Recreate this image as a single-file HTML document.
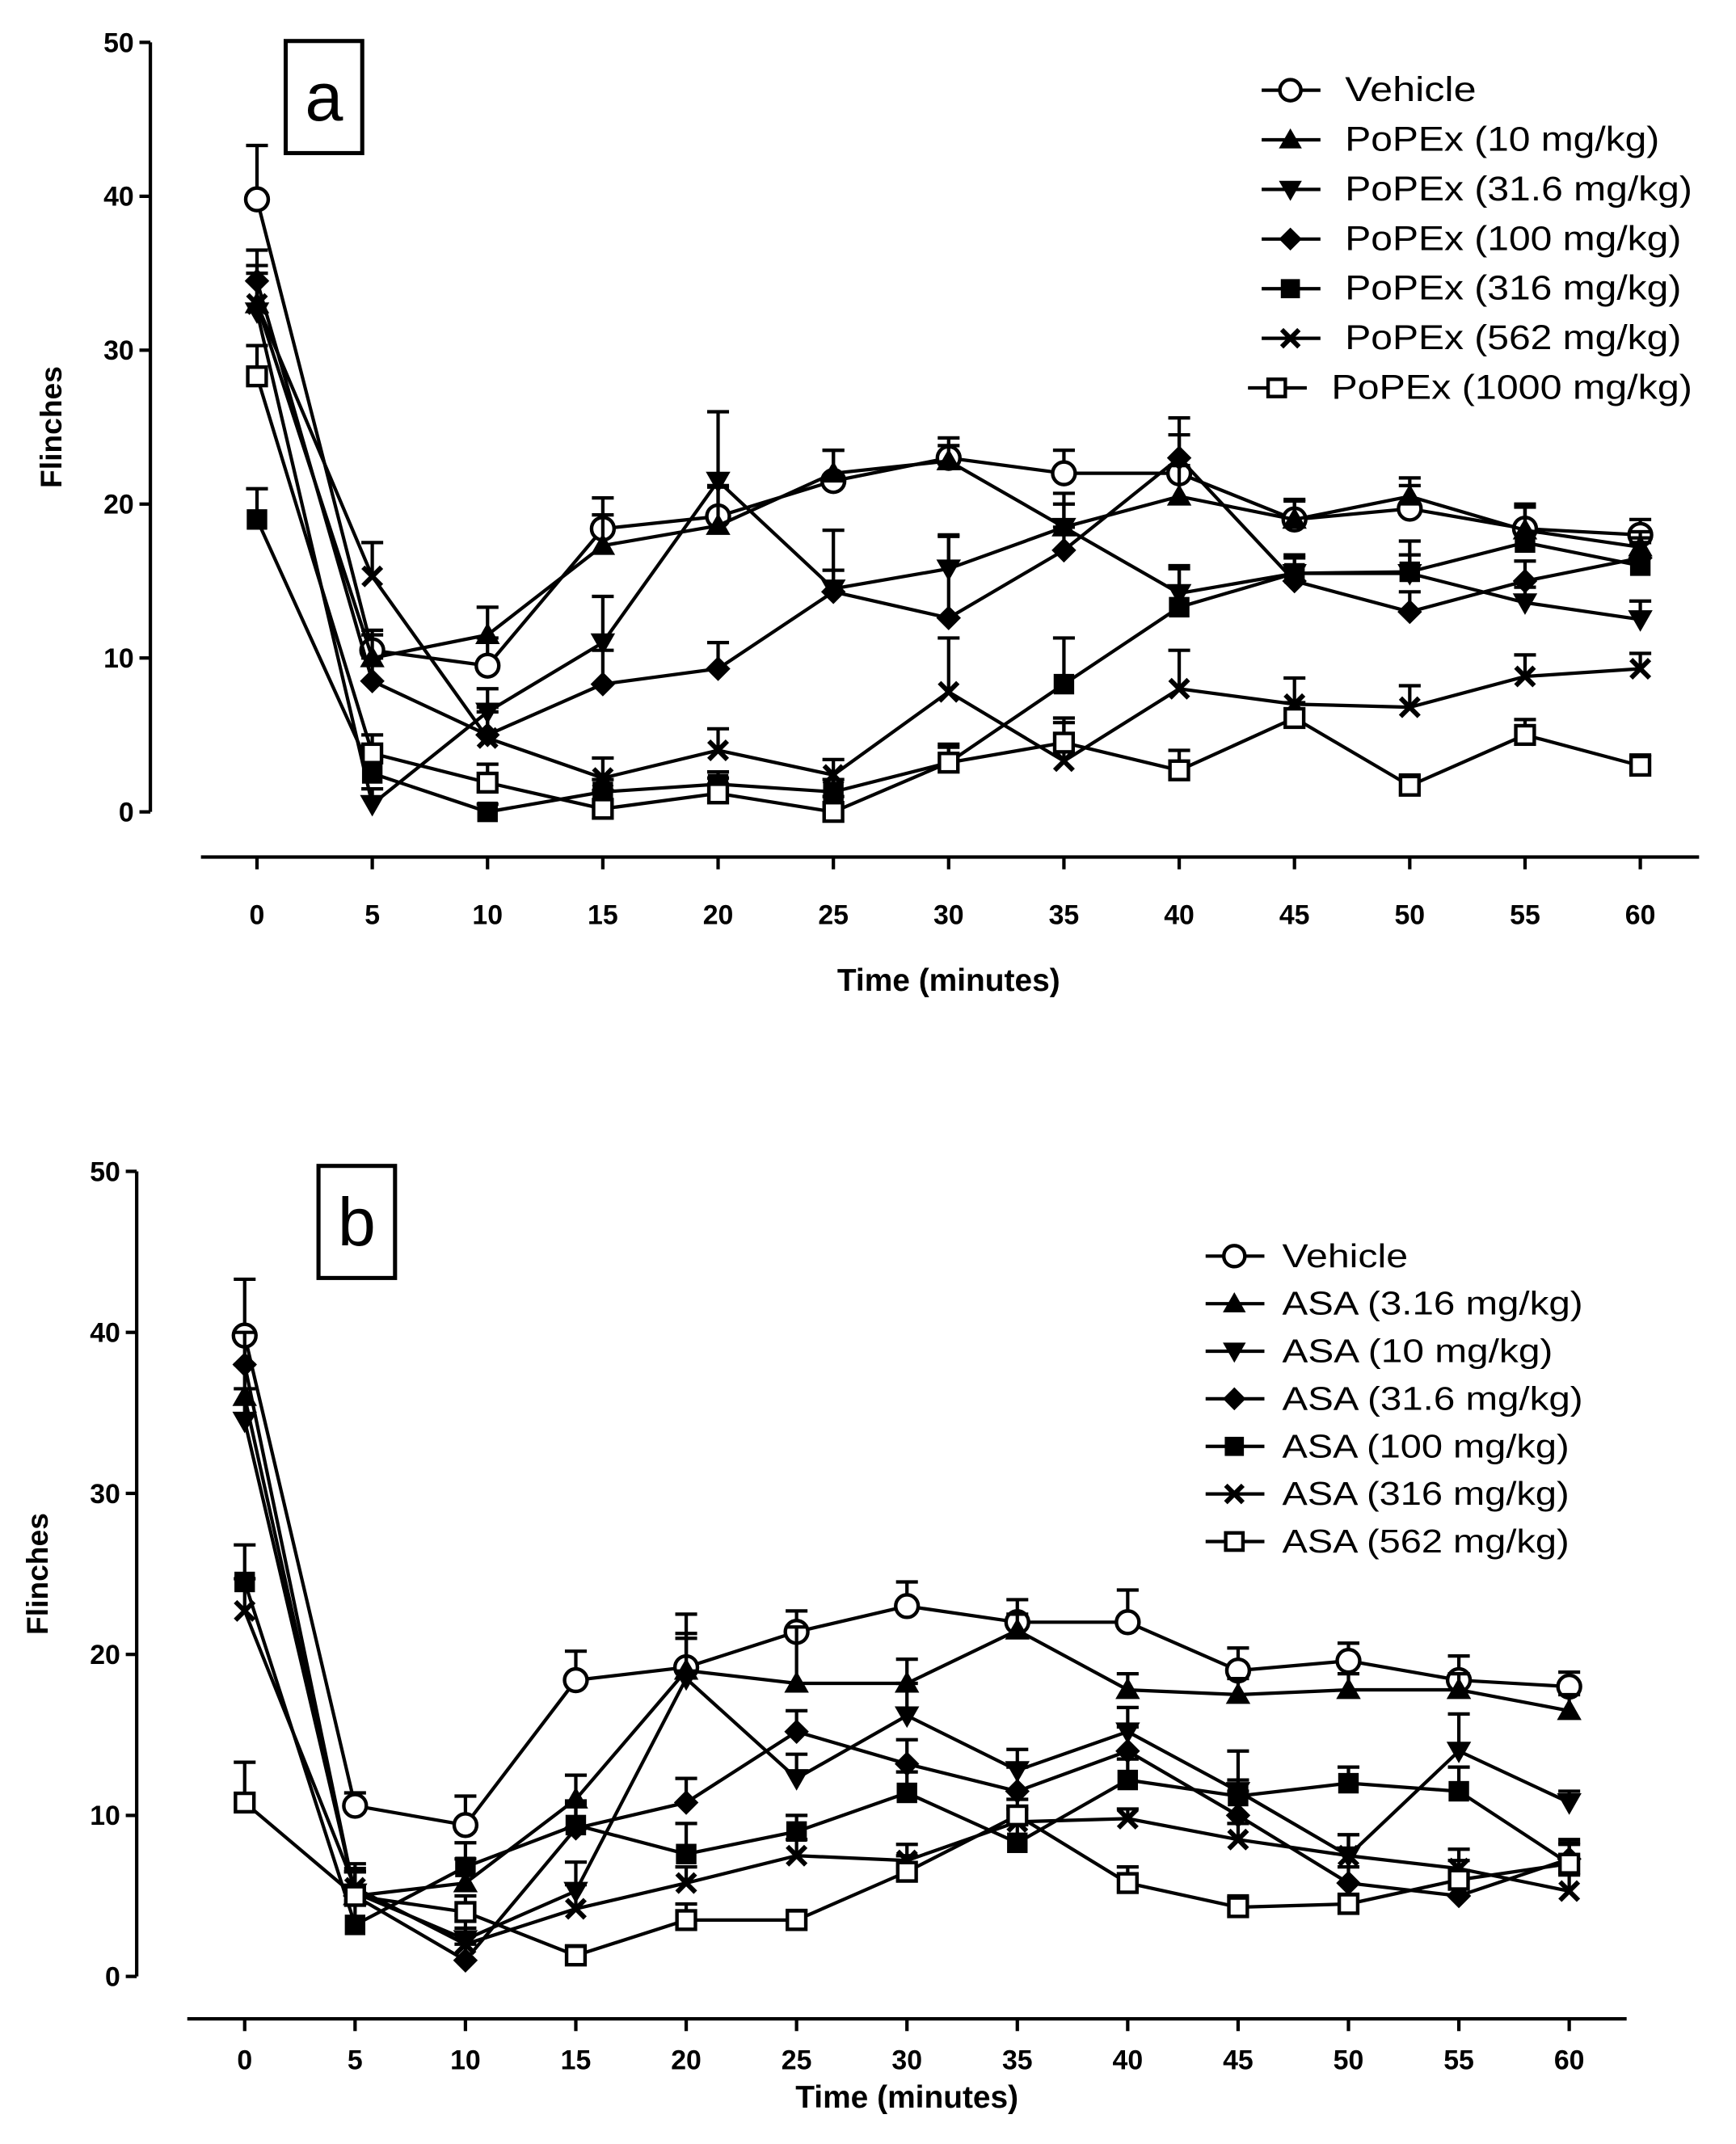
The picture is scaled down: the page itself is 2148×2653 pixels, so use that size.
<!DOCTYPE html>
<html><head><meta charset="utf-8"><style>
html,body{margin:0;padding:0;background:#fff}
svg{display:block}
text{font-family:"Liberation Sans",Arial,sans-serif;fill:#000}
</style></head><body>
<svg id="chart" width="2148" height="2653" viewBox="0 0 1270 1568.6" xmlns="http://www.w3.org/2000/svg"></svg>
<script>
const xCategories=[0,5,10,15,20,25,30,35,40,45,50,55,60];
const yTicks=[0,10,20,30,40,50];
const seriesNamesA=["Vehicle","PoPEx (10 mg/kg)","PoPEx (31.6 mg/kg)","PoPEx (100 mg/kg)","PoPEx (316 mg/kg)","PoPEx (562 mg/kg)","PoPEx (1000 mg/kg)"];
const seriesNamesB=["Vehicle","ASA (3.16 mg/kg)","ASA (10 mg/kg)","ASA (31.6 mg/kg)","ASA (100 mg/kg)","ASA (316 mg/kg)","ASA (562 mg/kg)"];
const markers=["circle","triUp","triDown","diamond","square","cross","openSquare"];
const aVehicle=[39.8,10.5,9.5,18.4,19.2,21.5,23,22,22,19,19.7,18.4,18];
const aP10=[33,10,11.5,17.3,18.6,22,22.8,18.5,20.5,19,20.5,18.3,17.2];
const aP31=[32.5,0.5,6.5,11,21.5,14.5,15.8,18.5,14.2,15.5,15.5,13.6,12.5];
const aP100=[34.5,8.5,5,8.3,9.3,14.3,12.6,17,23,15,13,15,16.5];
const aP316=[19,2.5,0,1.3,1.8,1.3,3.2,8.3,13.3,15.5,15.6,17.5,16];
const aP562=[33,15.3,4.8,2.2,4,2.4,7.8,3.3,8,7,6.8,8.8,9.3];
const aP1000=[28.3,3.8,1.9,0.2,1.2,0,3.2,4.5,2.7,6.1,1.7,5,3];
const aErr=[[3.5,1.3,1.8,2,2,2,1.3,1.5,2.5,1.3,1.5,1.5,1],[2.5,1.5,1.8,2,2.5,1.5,1,1.5,2,1.2,1.2,1.5,1],[2,1,1.5,3,4.5,1.2,2.2,2.2,1.8,1,1.2,1,1.2],[2,1.5,1.5,2.2,1.7,4,5.3,1.5,2.6,1,1.3,1.3,1.3],[2,1,0.5,0.8,0.8,0.8,1.2,3,2.5,1.2,2,2.5,1.5],[2,2.2,2,1.3,1.4,1,3.5,2.8,2.5,1.7,1.4,1.4,1],[2,1.2,1.2,1.2,1,1,1,1.3,1.3,1,0.7,1,0.7]];
const bVehicle=[39.8,10.6,9.4,18.4,19.2,21.4,23,22,22,19,19.6,18.4,18];
const bA3=[36,5,5.8,11,19,18.2,18.2,21.5,17.8,17.5,17.8,17.8,16.5];
const bA10=[34.5,5.2,2.3,5.3,18.5,12.3,16.2,12.8,15.2,11.5,7.5,14,10.8];
const bA31=[38,5,1,9.2,10.8,15.2,13.2,11.5,14,10,5.8,5,7.3];
const bA100=[24.5,3.2,6.8,9.4,7.6,9,11.4,8.3,12.2,11.2,12,11.5,7];
const bA316=[22.7,5.5,2,4.2,5.8,7.5,7.2,9.6,9.8,8.5,7.5,6.7,5.3];
const bA562=[10.8,5,4,1.3,3.5,3.5,6.5,10,5.8,4.3,4.5,6,7];
const bErr=[[3.5,0.8,1.8,1.8,3.3,1.3,1.5,1.4,2,1.4,1.1,1.5,0.9],[2,1.5,1.5,1.5,2.3,3.5,1.5,1,1,1,1,1,1],[2,1.5,1.5,1.8,2.5,1.5,2,1.3,1.5,2.5,1.3,2.3,0.7],[2,1.5,1,1.5,1.5,1.3,1.5,1.5,1.5,1.5,1,1,1],[2.3,1.5,1.5,1.5,1.9,1,1.3,1.2,1.3,1,1,1.5,1.5],[2,1.5,1,1.5,1,1,1,0.8,0.6,1,1.3,1.2,1],[2.5,1.5,1,0.6,1,0.6,1,1,1,0.7,0.6,1.2,1.2]];
const seriesA=[aVehicle,aP10,aP31,aP100,aP316,aP562,aP1000];
const seriesB=[bVehicle,bA3,bA10,bA31,bA100,bA316,bA562];

const svg=document.getElementById('chart');
const NS='http://www.w3.org/2000/svg';
function mk(tag,attrs,parent){const e=document.createElementNS(NS,tag);for(const k in attrs)e.setAttribute(k,attrs[k]);(parent||svg).appendChild(e);return e;}

function marker(g,type,x,y,s){
  const sw=2.6;let e;
  if(type==="circle")e=mk('circle',{cx:x,cy:y,r:s*0.55,fill:'#fff',stroke:'#000','stroke-width':sw},g);
  else if(type==="triUp")e=mk('polygon',{points:`${x},${y-s*0.6} ${x-s*0.6},${y+s*0.45} ${x+s*0.6},${y+s*0.45}`,fill:'#000'},g);
  else if(type==="triDown")e=mk('polygon',{points:`${x},${y+s*0.6} ${x-s*0.6},${y-s*0.45} ${x+s*0.6},${y-s*0.45}`,fill:'#000'},g);
  else if(type==="diamond")e=mk('polygon',{points:`${x},${y-s*0.6} ${x+s*0.6},${y} ${x},${y+s*0.6} ${x-s*0.6},${y}`,fill:'#000'},g);
  else if(type==="square")e=mk('rect',{x:x-s*0.5,y:y-s*0.5,width:s,height:s,fill:'#000'},g);
  else if(type==="cross")e=mk('path',{d:`M${x-s*0.45},${y-s*0.45}L${x+s*0.45},${y+s*0.45}M${x+s*0.45},${y-s*0.45}L${x-s*0.45},${y+s*0.45}`,stroke:'#000','stroke-width':3.5},g);
  else e=mk('rect',{x:x-s*0.45,y:y-s*0.45,width:s*0.9,height:s*0.9,fill:'#fff',stroke:'#000','stroke-width':sw},g);
  
  
  return e;
}

function panel(cfg){
  const g=mk('g',{});
  
  
  const X=v=>cfg.x0+(v-0)/60*(cfg.x60-cfg.x0);
  const Y=v=>cfg.y0-v/50*(cfg.y0-cfg.y50);
  const ya=mk('line',{x1:cfg.yAxisX,y1:Y(0),x2:cfg.yAxisX,y2:Y(50),stroke:'#000','stroke-width':2.5},g);
  
  yTicks.forEach(t=>{
    mk('line',{x1:cfg.yAxisX-8,y1:Y(t),x2:cfg.yAxisX,y2:Y(t),stroke:'#000','stroke-width':2.5},g);
    const tx=mk('text',{x:cfg.yAxisX-12,y:Y(t)+7,'text-anchor':'end','font-size':20,'font-weight':'bold'},g);
    tx.textContent=t;
  });
  const yt=mk('text',{x:0,y:0,transform:`translate(${cfg.yAxisX-65},${(Y(0)+Y(50))/2}) rotate(-90)`,'text-anchor':'middle','font-size':22,'font-weight':'bold'},g);
  yt.textContent='Flinches';
  const xa=mk('line',{x1:cfg.xAxisL,y1:cfg.xAxisY,x2:cfg.xAxisR,y2:cfg.xAxisY,stroke:'#000','stroke-width':2.5},g);
  
  xCategories.forEach(c=>{
    mk('line',{x1:X(c),y1:cfg.xAxisY,x2:X(c),y2:cfg.xAxisY+9,stroke:'#000','stroke-width':2.5},g);
    const tx=mk('text',{x:X(c),y:cfg.xAxisY+cfg.tickOff,'text-anchor':'middle','font-size':20,'font-weight':'bold'},g);
    tx.textContent=c;
  });
  const xt=mk('text',{x:(X(0)+X(60))/2,y:cfg.xTitleY,'text-anchor':'middle','font-size':23,'font-weight':'bold'},g);
  xt.textContent='Time (minutes)';
  const lb=mk('rect',{x:cfg.boxX,y:cfg.boxY,width:56,height:82,fill:'#fff',stroke:'#000','stroke-width':3},g);
  
  const lt=mk('text',{x:cfg.boxX+28,y:cfg.boxY+58,'text-anchor':'middle','font-size':50},g);
  lt.textContent=cfg.label;
  cfg.series.forEach((vals,si)=>{
    const sg=mk('g',{},g);
    
    
    const err=cfg.err[si];
    vals.forEach((v,i)=>{
      const x=X(xCategories[i]),y1=Y(v),y2=Y(v+err[i]);
      mk('line',{x1:x,y1:y1,x2:x,y2:y2,stroke:'#000','stroke-width':2.5},sg);
      mk('line',{x1:x-8,y1:y2,x2:x+8,y2:y2,stroke:'#000','stroke-width':2.5},sg);
    });
    const pl=mk('polyline',{points:vals.map((v,i)=>X(xCategories[i])+','+Y(v)).join(' '),fill:'none',stroke:'#000','stroke-width':2.5},sg);
    
    vals.forEach((v,i)=>marker(sg,markers[si],X(xCategories[i]),Y(v),15));
  });
  const lg=mk('g',{},g);
  
  cfg.names.forEach((n,i)=>{
    const y=cfg.legY+i*cfg.legDy;
    const shift=(cfg.label==='a'&&i===6)?-10:0;
    mk('line',{x1:cfg.legX+shift,y1:y,x2:cfg.legX+43+shift,y2:y,stroke:'#000','stroke-width':2.5},lg);
    marker(lg,markers[i],cfg.legX+21+shift,y,14);
    const t=mk('text',{x:cfg.legX+cfg.legTx+shift,y:y+8,'font-size':cfg.legFs,'textLength':cfg.legW[i],'lengthAdjust':'spacingAndGlyphs'},lg);
    t.textContent=n;
  });
}

panel({label:'a',x0:188,x60:1200,y0:594,y50:31,yAxisX:110,xAxisL:147,xAxisR:1243,xAxisY:627,tickOff:49,xTitleY:725,boxX:209,boxY:30,
  series:seriesA,err:aErr,names:seriesNamesA,legX:923,legY:66,legDy:36.3,legTx:61,legFs:25,legW:[96,230,254,246,246,246,264]});
panel({label:'b',x0:179,x60:1148,y0:1446,y50:857,yAxisX:100,xAxisL:137,xAxisR:1190,xAxisY:1477,tickOff:37,xTitleY:1542,boxX:233,boxY:853,
  series:seriesB,err:bErr,names:seriesNamesB,legX:882,legY:919,legDy:34.8,legTx:56,legFs:24,legW:[92,220,198,220,210,210,210]});
</script>
</body></html>
